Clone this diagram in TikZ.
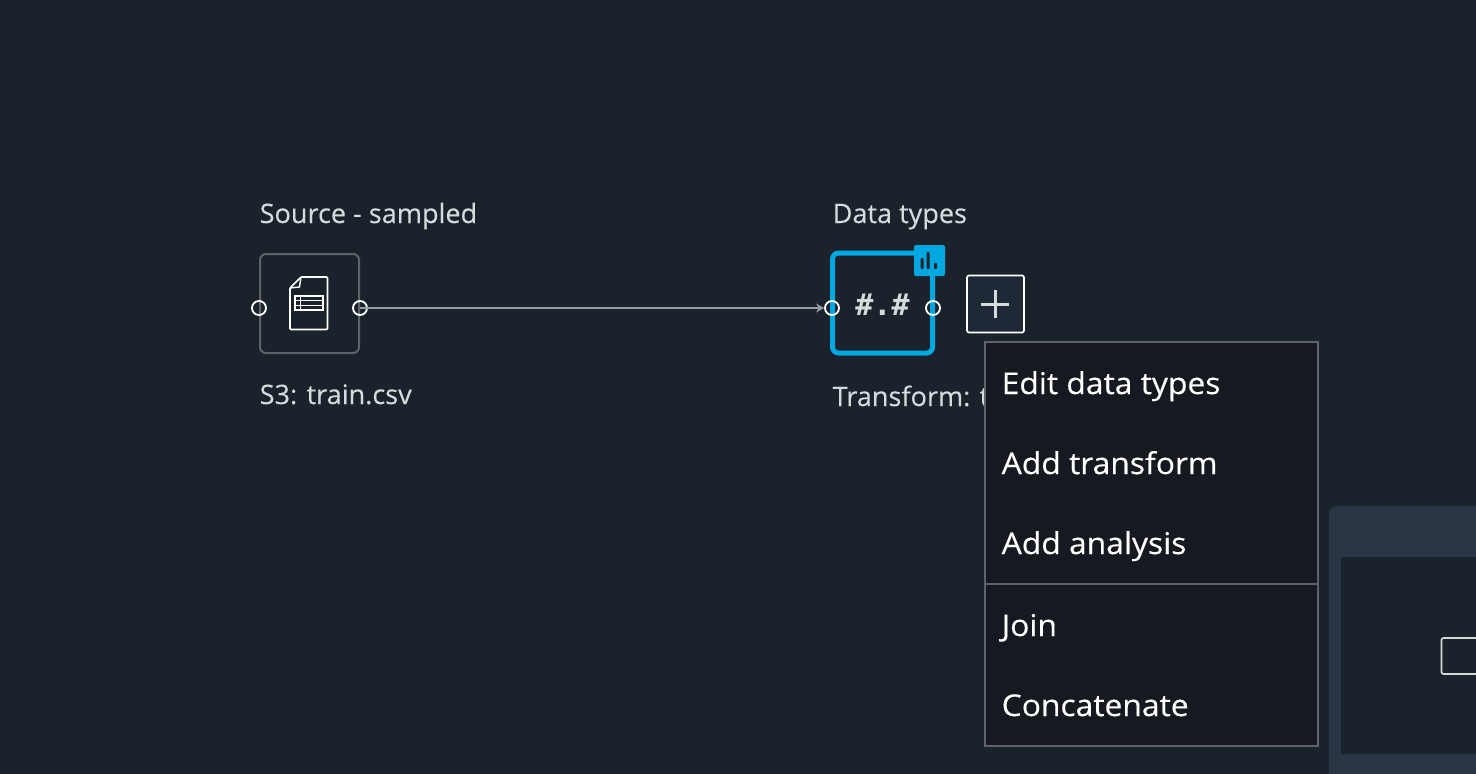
\documentclass[tikz,border=0pt]{standalone}
\usepackage{fontspec}
\usepackage{tikz}
\usetikzlibrary{arrows.meta}
\setmainfont{Open Sans}
\newfontfamily\labelfont[FakeBold=0.25,FakeStretch=1.01]{Open Sans}
\newfontfamily\menufont[FakeBold=0.3,FakeStretch=1.06]{Open Sans}
\newfontfamily\hashfont{DejaVu Sans Mono}

\definecolor{bgdark}{HTML}{1A222C}
\definecolor{menudark}{HTML}{16191F}
\definecolor{edgegray}{HTML}{5F6368}
\definecolor{labelgray}{HTML}{D5DBDB}
\definecolor{pickblue}{HTML}{00A8E1}
\definecolor{panelblue}{HTML}{2A3646}
\definecolor{plusfill}{HTML}{1F2936}
\definecolor{wiregray}{HTML}{959BA0}

\tikzset{
  steplabel/.style={anchor=base west, inner sep=0pt, text=labelgray, font=\labelfont\fontsize{26.8}{30}\selectfont},
  menuitem/.style={anchor=base west, inner sep=0pt, text=white, font=\menufont\fontsize{30}{34}\selectfont},
  port/.style={circle, draw=white, line width=1.8pt, minimum size=14pt, inner sep=0pt},
}

\begin{document}
\begin{tikzpicture}[x=1pt,y=-1pt]
  \useasboundingbox (0,0) rectangle (1476,774);
  \fill[bgdark] (0,0) rectangle (1476,774);

  % panel at the lower right
  \fill[panelblue, rounded corners=8pt] (1329,506) rectangle (1490,790);
  \fill[bgdark] (1341,557) rectangle (1476,754);
  \draw[labelgray, line width=1.7pt, rounded corners=2pt] (1490,638) -- (1441.5,638) -- (1441.5,674) -- (1490,674);

  \node[steplabel] (srctitle) at (259.5,223) {Source - sampled};
  \node[steplabel] (srcname) at (259.5,404) {S3: train.csv};
  \node[steplabel] (typetitle) at (832.5,223) {Data types};
  \node[steplabel] (typename) at (832.5,406) {Transform: t};

  % source step
  \node[draw=edgegray, line width=2pt, rounded corners=6pt, minimum size=99pt, inner sep=0pt] (srcbox) at (309.5,303.5) {};
  \draw[white, line width=1.7pt, rounded corners=1pt] (301,277) -- (327.5,277) -- (327.5,329.5) -- (290,329.5) -- (290,288) -- cycle;
  \draw[white, line width=1.4pt] (290,288) -- (299.5,287) -- (301,277);
  \draw[white, line width=1.4pt] (295,296) rectangle (323,310);
  \draw[white, line width=1.4pt] (295,300.5) -- (323,300.5);
  \draw[white, line width=1.4pt] (295,305.5) -- (323,305.5);
  \draw[white, line width=1.4pt] (300.5,296) -- (300.5,310);

  % data types step
  \node[draw=pickblue, line width=5pt, rounded corners=6pt, minimum size=100pt, inner sep=0pt] (typebox) at (882.5,303) {};
  \node[text=labelgray, inner sep=0pt, font=\hashfont\bfseries\fontsize{30}{30}\selectfont] (typesign) at (882.5,305) {\#.\#};
  \fill[pickblue, rounded corners=2pt] (914,245) rectangle (945,276);
  \fill[bgdark, rounded corners=1pt] (920.5,258) rectangle (923.5,269);
  \fill[bgdark, rounded corners=1pt] (926.5,252) rectangle (929.5,269);
  \fill[bgdark, rounded corners=1pt] (934,263) rectangle (937,269);

  \node[port] (srcin) at (259,308) {};
  \node[port] (srcout) at (360,308) {};
  \node[port] (typein) at (832,308) {};
  \node[port] (typeout) at (933,308) {};
  \draw[wiregray, line width=2pt, -{Stealth[length=8pt,width=9pt]}] (srcout.center) -- (typein.west);

  % plus button
  \node[draw=white, fill=plusfill, line width=1.7pt, rounded corners=2pt, minimum width=57pt, minimum height=57pt, inner sep=0pt] (plusbox) at (995.5,304) {};
  \draw[labelgray, line width=3pt] (981,304) -- (1009,304);
  \draw[labelgray, line width=3pt] (995,290) -- (995,318);

  % context menu
  \draw[edgegray, line width=2pt, fill=menudark] (984.5,342) rectangle (1318,746);
  \draw[edgegray, line width=2pt] (985,584) -- (1318,584);
  \node[menuitem] (edititem) at (1001.5,394) {Edit data types};
  \node[menuitem] (transitem) at (1001.5,474) {Add transform};
  \node[menuitem] (analysisitem) at (1001.5,554) {Add analysis};
  \node[menuitem] (joinitem) at (1001.5,636) {Join};
  \node[menuitem] (concatitem) at (1001.5,716) {Concatenate};
\end{tikzpicture}
\end{document}
